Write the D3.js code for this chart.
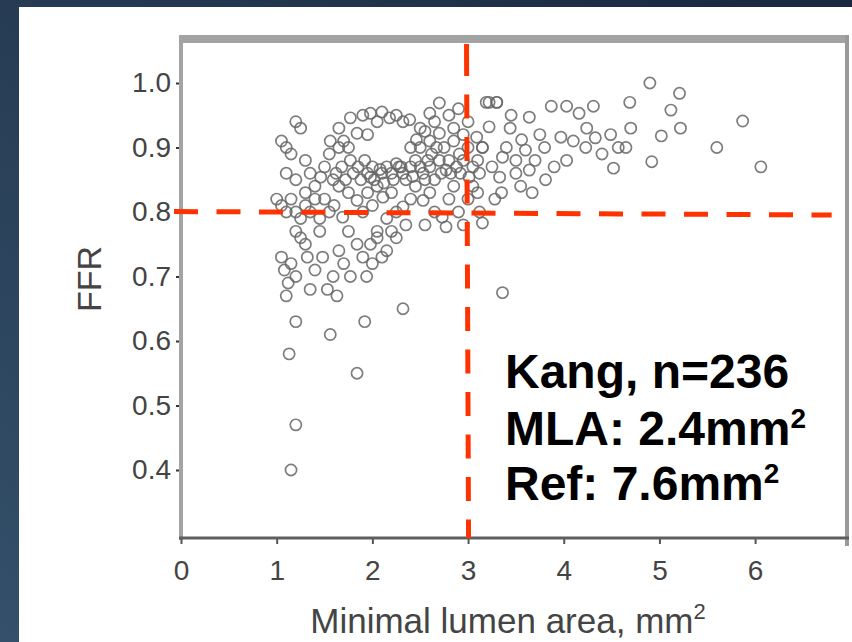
<!DOCTYPE html>
<html>
<head>
<meta charset="utf-8">
<script src="https://cdn.jsdelivr.net/npm/d3@7"></script>
<style>
  html, body { margin: 0; padding: 0; background: #fff; }
  svg { display: block; }
</style>
</head>
<body>
<svg id="chart" width="852" height="642"></svg>
<script>
// ---- data ----
const xTicks = [0, 1, 2, 3, 4, 5, 6];
const yTicks = [0.4, 0.5, 0.6, 0.7, 0.8, 0.9, 1.0];
const yTickLabels = ["0.4", "0.5", "0.6", "0.7", "0.8", "0.9", "1.0"];
const mlaCut = 3.0;   // vertical dashed line
const ffrCut = 0.8;   // horizontal dashed line
const annotation = ["Kang, n=236", "MLA: 2.4mm", "Ref: 7.6mm"];
const annotationSup = ["", "2", "2"];

// MLA (mm²)
const mla = [
  // x 1.0-1.4 high
  1.05,1.10,1.20,1.25,1.15,1.30,1.10,1.20,1.00,1.05,1.10,1.15,1.20,1.30,1.35,1.25,1.40,1.35,1.40,1.30,
  // x 1.0-1.6 low
  1.15,1.20,1.13,1.20,1.10,1.12,1.08,1.15,1.20,1.05,1.30,1.32,1.40,1.48,1.53,1.63,1.59,1.56,1.25,1.45,1.35,1.20,
  // x 1.6-2.3 low
  1.84,1.92,2.32,1.77,1.94,1.84,2.05,2.15,2.05,1.98,2.20,2.10,1.70,1.65,1.75,2.25,1.90,2.00,
  // dense upper
  1.56,1.65,1.77,1.84,1.90,1.98,2.05,2.10,2.18,2.25,2.32,2.39,2.46,2.50,2.60,2.65,2.70,2.70,2.80,2.85,2.90,3.00,3.09,3.19,3.22,3.30,2.95,2.55,1.70,1.95,
  // dense middle
  1.46,1.59,1.77,1.98,2.08,2.25,2.32,2.53,2.67,2.77,2.91,3.01,1.50,1.55,1.62,1.68,1.72,1.80,1.85,1.88,1.92,1.95,2.00,2.02,2.10,2.12,2.15,2.20,2.22,2.28,2.35,2.40,2.42,2.45,2.50,2.55,2.58,2.60,2.62,2.65,2.70,2.72,2.75,2.80,2.82,2.85,2.88,2.92,2.95,3.00,3.05,3.10,3.12,3.15,2.50,2.40,2.30,1.65,1.75,2.60,
  // dense lower
  1.69,1.84,2.11,2.32,2.53,2.73,2.77,3.12,1.60,1.75,1.50,1.55,1.90,1.95,2.00,2.20,2.25,2.40,2.45,2.60,2.65,2.80,2.85,2.90,3.00,3.05,2.35,2.15,2.55,1.45,1.65,2.05,2.95,3.10,
  // x 3.2-4.6
  3.36,3.15,3.35,3.33,3.36,3.30,3.22,3.15,3.60,3.64,3.56,3.64,3.67,3.81,3.87,4.03,4.31,3.97,4.03,4.23,4.33,4.49,4.57,4.52,4.24,4.16,3.44,3.50,3.70,3.75,3.40,3.45,3.55,3.90,4.10,3.25,3.28,3.50,3.80,4.40,
  // x > 4.6
  4.69,4.90,5.21,5.12,5.22,5.02,4.92,5.87,5.60,6.06,4.70,4.65
];
// FFR
const ffr = [
  0.91,0.90,0.94,0.93,0.89,0.88,0.86,0.85,0.82,0.81,0.80,0.82,0.80,0.81,0.80,0.79,0.82,0.86,0.84,0.83,
  0.40,0.47,0.58,0.63,0.67,0.69,0.71,0.72,0.70,0.73,0.75,0.73,0.71,0.73,0.68,0.67,0.70,0.61,0.76,0.77,0.68,0.77,
  0.55,0.63,0.65,0.70,0.70,0.75,0.76,0.74,0.77,0.75,0.77,0.73,0.72,0.74,0.77,0.76,0.73,0.72,
  0.91,0.93,0.946,0.922,0.95,0.953,0.94,0.955,0.946,0.95,0.94,0.943,0.912,0.93,0.953,0.94,0.969,0.922,0.95,0.93,0.96,0.94,0.916,0.97,0.97,0.97,0.92,0.925,0.91,0.92,
  0.854,0.85,0.88,0.854,0.866,0.875,0.86,0.86,0.90,0.865,0.89,0.854,0.87,0.89,0.86,0.87,0.85,0.86,0.87,0.85,0.88,0.86,0.87,0.85,0.86,0.845,0.87,0.86,0.85,0.87,0.85,0.87,0.855,0.88,0.87,0.85,0.88,0.87,0.89,0.85,0.88,0.86,0.90,0.88,0.86,0.91,0.87,0.86,0.88,0.90,0.87,0.88,0.86,0.90,0.90,0.90,0.87,0.90,0.90,0.91,
  0.792,0.818,0.823,0.808,0.818,0.792,0.777,0.80,0.81,0.83,0.82,0.80,0.80,0.83,0.81,0.83,0.80,0.82,0.84,0.83,0.80,0.82,0.84,0.80,0.82,0.84,0.78,0.79,0.78,0.79,0.84,0.84,0.78,0.83,
  0.675,0.783,0.83,0.854,0.885,0.97,0.932,0.90,0.896,0.947,0.912,0.865,0.83,0.85,0.964,0.964,0.964,0.916,0.88,0.90,0.915,0.92,0.90,0.868,0.93,0.953,0.93,0.86,0.88,0.92,0.90,0.95,0.84,0.87,0.91,0.87,0.82,0.88,0.90,0.89,
  0.97,1.00,0.984,0.958,0.93,0.918,0.878,0.941,0.90,0.87,0.93,0.90
];

// ---- drawing ----
const W = 852, H = 642;
const svg = d3.select("#chart");
const defs = svg.append("defs");
const grad = defs.append("linearGradient").attr("id", "bg")
  .attr("x1", "0%").attr("y1", "100%").attr("x2", "100%").attr("y2", "0%");
grad.append("stop").attr("offset", "0%").attr("stop-color", "#34506a");
grad.append("stop").attr("offset", "100%").attr("stop-color", "#19283d");
svg.append("rect").attr("width", W).attr("height", H).attr("fill", "url(#bg)");
svg.append("rect").attr("x", 19).attr("y", 7).attr("width", W - 19).attr("height", H - 7).attr("fill", "#fff");

const plot = { left: 181, right: 846, top: 40, bottom: 538 };
const x = d3.scaleLinear().domain([0, 6.95]).range([plot.left, plot.right]);
const y = d3.scaleLinear().domain([0.4, 1.0]).range([470, 83]);

const font = "'Liberation Sans', Arial, sans-serif";
const textGrey = "#444";

// frame: top band, right border
svg.append("rect").attr("x", 179).attr("y", 35).attr("width", 670).attr("height", 8).attr("fill", "#a3a3a3");
svg.append("rect").attr("x", 845).attr("y", 35).attr("width", 4).attr("height", 511).attr("fill", "#9a9a9a");

// points
const pts = mla.map((m, i) => ({ m, f: ffr[i] }));
svg.append("g").selectAll("circle").data(pts).join("circle")
  .attr("cx", d => x(d.m)).attr("cy", d => y(d.f)).attr("r", 5.6)
  .attr("fill", "none").attr("stroke", "#666").attr("stroke-width", 1.7)
  .attr("stroke-opacity", 0.85);

// y axis
const yAxis = d3.axisLeft(y).tickValues(yTicks).tickSize(5).tickPadding(5)
  .tickFormat((d, i) => yTickLabels[i]);
const gy = svg.append("g").attr("transform", `translate(${plot.left},0)`).call(yAxis);
gy.select(".domain").remove();
gy.selectAll(".tick line").attr("stroke", "#333").attr("stroke-width", 2);
gy.selectAll(".tick text").attr("font-family", font).attr("font-size", 28).attr("fill", textGrey);
svg.append("rect").attr("x", 179).attr("y", 35).attr("width", 4).attr("height", 505).attr("fill", "#a3a3a3");

// x axis
const xAxis = d3.axisBottom(x).tickValues(xTicks).tickSize(6).tickPadding(16).tickFormat(d3.format("d"));
const gx = svg.append("g").attr("transform", `translate(0,${plot.bottom})`).call(xAxis);
gx.select(".domain").remove();
gx.selectAll(".tick line").attr("stroke", "#555").attr("stroke-width", 2);
gx.selectAll(".tick text").attr("font-family", font).attr("font-size", 28).attr("fill", textGrey);
svg.append("rect").attr("x", 179).attr("y", plot.bottom - 1.5).attr("width", 670).attr("height", 3).attr("fill", "#5e5e5e");

// dashed reference lines
const dash = "24 18.5";
svg.append("line")
  .attr("x1", x(0) - 7).attr("x2", x(6.8))
  .attr("y1", y(ffrCut) - 0.5).attr("y2", y(ffrCut) + 3)
  .attr("stroke", "#ff3300").attr("stroke-width", 5).attr("stroke-dasharray", dash);
svg.append("line")
  .attr("x1", x(mlaCut) - 1.5).attr("x2", x(mlaCut) + 0.5)
  .attr("y1", 52).attr("y2", plot.bottom)
  .attr("stroke", "#ff3300").attr("stroke-width", 5).attr("stroke-dasharray", dash);
svg.append("line")
  .attr("x1", x(mlaCut) - 1.5).attr("x2", x(mlaCut) - 1.5)
  .attr("y1", 44).attr("y2", 52)
  .attr("stroke", "#ff3300").attr("stroke-width", 5);

// axis titles
svg.append("text").attr("transform", "translate(101,279) rotate(-90)")
  .attr("text-anchor", "middle").attr("font-family", font).attr("font-size", 34)
  .attr("fill", textGrey).text("FFR");
const xt = svg.append("text").attr("x", 508).attr("y", 633).attr("text-anchor", "middle")
  .attr("font-family", font).attr("font-size", 35).attr("fill", textGrey);
xt.append("tspan").text("Minimal lumen area, mm");
xt.append("tspan").attr("dy", -14).attr("font-size", 22).text("2");

// annotation
const baselines = [388, 445, 500];
annotation.forEach((t, i) => {
  const tx = svg.append("text").attr("x", 505).attr("y", baselines[i])
    .attr("font-family", font).attr("font-weight", "bold").attr("font-size", 48).attr("fill", "#000");
  tx.append("tspan").text(t);
  if (annotationSup[i]) tx.append("tspan").attr("dy", -17).attr("font-size", 28).text(annotationSup[i]);
});
</script>
</body>
</html>
